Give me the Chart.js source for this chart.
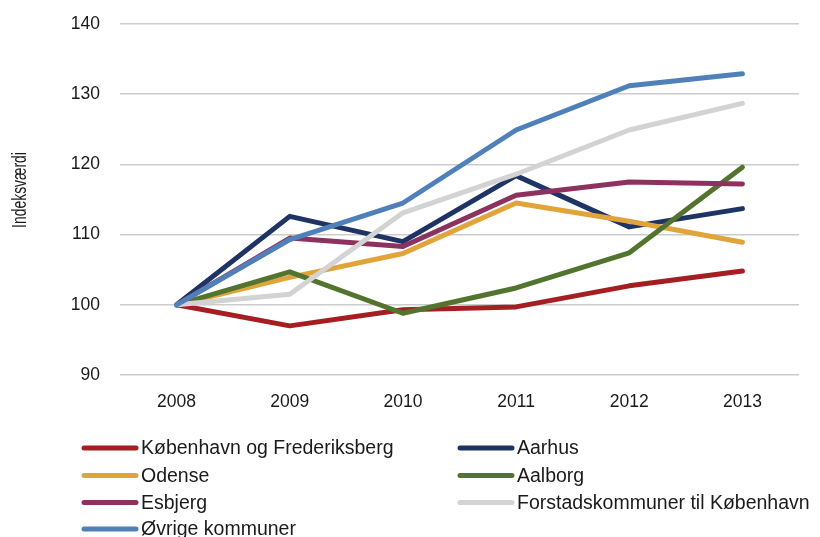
<!DOCTYPE html>
<html>
<head>
<meta charset="utf-8">
<script src="https://cdn.jsdelivr.net/npm/chart.js@4/dist/chart.umd.min.js"></script>
<style>
html,body{margin:0;padding:0;background:#fff;}
#wrap{width:820px;height:537px;position:relative;}
</style>
</head>
<body>
<div id="wrap"><canvas id="c" width="820" height="537"></canvas></div>
<script>
const years = ['2008','2009','2010','2011','2012','2013'];
const seriesNames = ['København og Frederiksberg','Aarhus','Odense','Aalborg','Esbjerg','Forstadskommuner til København','Øvrige kommuner'];
const kbhFrb   = [100, 97.0, 99.3, 99.7, 102.7, 104.8];
const aarhus   = [100, 112.6, 109.0, 118.4, 111.1, 113.7];
const odense   = [100, 103.9, 107.3, 114.5, 111.9, 108.9];
const aalborg  = [100, 104.7, 98.8, 102.4, 107.4, 119.6];
const esbjerg  = [100, 109.5, 108.3, 115.6, 117.5, 117.2];
const forstad  = [100, 101.5, 113.1, 118.6, 124.9, 128.7];
const oevrige  = [100, 109.3, 114.5, 124.9, 131.2, 132.9];
const yTicks = [90, 100, 110, 120, 130, 140];
const yTitle = 'Indeksværdi';

const colors = ['#A41E22','#1F3464','#E1A43B','#53742F','#8D325F','#D3D3D3','#4F80B9'];
const values = [kbhFrb, aarhus, odense, aalborg, esbjerg, forstad, oevrige];

const FONT = "'Liberation Sans', Arial, sans-serif";

const legendPlugin = {
  id: 'gridLegend',
  afterDraw(chart) {
    const ctx = chart.ctx;
    const colX = [82, 458];
    const rowY = [448, 475.5, 502.5, 529];
    ctx.save();
    chart.data.datasets.forEach((ds, i) => {
      const col = i % 2, row = Math.floor(i / 2);
      const x = colX[col], y = rowY[row];
      ctx.strokeStyle = ds.borderColor;
      ctx.lineWidth = 5;
      ctx.lineCap = 'round';
      ctx.beginPath();
      ctx.moveTo(x + 2, y);
      ctx.lineTo(x + 54, y);
      ctx.stroke();
      ctx.fillStyle = '#1a1a1a';
      ctx.font = "19.5px " + FONT;
      ctx.textBaseline = 'middle';
      ctx.textAlign = 'left';
      ctx.fillText(ds.label, x + 59, y + 1);
    });
    // y axis title (condensed horizontally to mimic the narrow face)
    ctx.translate(20, 190);
    ctx.rotate(-Math.PI / 2);
    ctx.scale(0.68, 1);
    ctx.font = "20.5px " + FONT;
    ctx.textAlign = 'center';
    ctx.textBaseline = 'middle';
    ctx.fillText(yTitle, 0, 0);
    ctx.restore();
  }
};

new Chart(document.getElementById('c'), {
  type: 'line',
  data: {
    labels: years,
    datasets: seriesNames.map((name, i) => ({
      label: name,
      data: values[i],
      borderColor: colors[i],
      backgroundColor: colors[i],
      borderWidth: 5,
      pointRadius: 0,
      pointHoverRadius: 0,
      tension: 0,
      borderJoinStyle: 'round',
      borderCapStyle: 'round',
      order: seriesNames.length - i
    }))
  },
  options: {
    responsive: false,
    animation: false,
    devicePixelRatio: 1,
    layout: { padding: { left: 0, right: 21, top: 24, bottom: 122 } },
    plugins: { legend: { display: false }, tooltip: { enabled: false } },
    scales: {
      x: {
        offset: true,
        grid: { display: false, drawTicks: false },
        border: { display: false },
        ticks: { color: '#1a1a1a', font: { family: FONT, size: 17.5 }, padding: 17 },
        afterFit(scale) { scale.height = 40; }
      },
      y: {
        min: 90, max: 140,
        afterBuildTicks(scale) { scale.ticks = yTicks.map(v => ({ value: v })); },
        grid: { color: '#cccccc', lineWidth: 1.5, drawTicks: true, tickLength: 20, tickColor: 'rgba(0,0,0,0)' },
        border: { display: false },
        ticks: { color: '#1a1a1a', font: { family: FONT, size: 17.5 }, padding: 0 },
        afterFit(scale) { scale.width = 120; }
      }
    }
  },
  plugins: [legendPlugin]
});
</script>
</body>
</html>
